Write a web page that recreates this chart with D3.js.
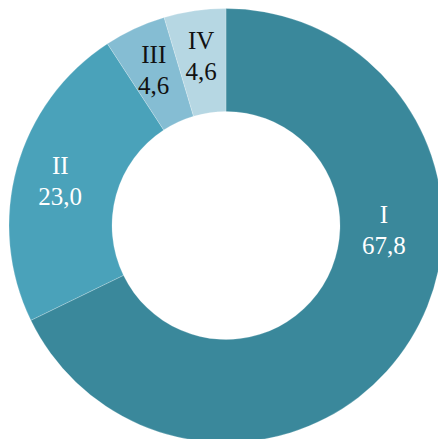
<!DOCTYPE html>
<html><head><meta charset="utf-8">
<script src="https://cdn.jsdelivr.net/npm/d3@7"></script>
<style>html,body{margin:0;padding:0;background:#fff;overflow:hidden}</style>
</head><body>
<svg id="c" width="438" height="439"></svg>
<script>
const categories = ["I", "II", "III", "IV"];
const values = [67.8, 23.0, 4.6, 4.6];
const valueLabels = ["67,8", "23,0", "4,6", "4,6"];
const colors = ["#3a889b", "#4aa2ba", "#85bdd3", "#b6d7e3"];
const textColors = ["#ffffff", "#ffffff", "#111111", "#111111"];

const svg = d3.select("#c");
const cx = 226, cy = 225.5, rOuter = 217, rInner = 114;
const g = svg.append("g").attr("transform", `translate(${cx},${cy})`);

const data = categories.map((c, i) => ({cat: c, value: values[i], label: valueLabels[i], color: colors[i], tc: textColors[i]}));
const pie = d3.pie().value(d => d.value).sort(null).startAngle(0).endAngle(2 * Math.PI);
const arcs = pie(data);
const arc = d3.arc().innerRadius(rInner).outerRadius(rOuter);

g.selectAll("path").data(arcs).enter().append("path")
  .attr("d", arc)
  .attr("fill", d => d.data.color)
  .attr("stroke", "rgba(255,255,255,0.35)")
  .attr("stroke-width", 0.6);

// label placement: mid-angle at fixed radius; largest slice label moved to the horizontal
const labelArc = d3.arc().innerRadius(172).outerRadius(172);
function labelPos(d, i) {
  if (i === 0) {
    const a = Math.PI / 2 + 0.025, r = 158;
    return [r * Math.sin(a), -r * Math.cos(a)];
  }
  return labelArc.centroid(d);
}

const lab = g.selectAll("g.lab").data(arcs).enter().append("g")
  .attr("class", "lab")
  .attr("transform", (d, i) => { const p = labelPos(d, i); return `translate(${p[0]},${p[1]})`; })
  .attr("font-family", "'Liberation Serif','Times New Roman',Times,serif")
  .attr("font-size", 25)
  .attr("text-anchor", "middle")
  .attr("fill", d => d.data.tc);

lab.append("text").attr("y", -6).text(d => d.data.cat);
lab.append("text").attr("y", 25).text(d => d.data.label);
</script>
</body></html>
